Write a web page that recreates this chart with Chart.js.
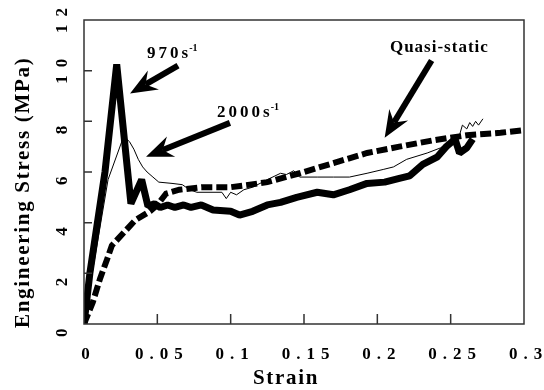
<!DOCTYPE html>
<html>
<head>
<meta charset="utf-8">
<script src="https://cdn.jsdelivr.net/npm/chart.js@4/dist/chart.umd.min.js"></script>
<style>
html, body { margin: 0; padding: 0; background: #fff; }
</style>
</head>
<body>
<canvas id="chart" width="544" height="390"></canvas>
<script>
var strain970 = [0, 0.004, 0.0143, 0.0223, 0.032, 0.0393, 0.0436, 0.048, 0.052, 0.057, 0.062, 0.068, 0.073, 0.08, 0.088, 0.1, 0.106, 0.115, 0.125, 0.134, 0.145, 0.159, 0.17, 0.181, 0.193, 0.205, 0.215, 0.222, 0.231, 0.241, 0.247, 0.253, 0.256, 0.261, 0.265];
var stress970 = [0, 2.0, 6.0, 10.25, 4.75, 5.7, 4.65, 4.75, 4.6, 4.7, 4.6, 4.7, 4.6, 4.7, 4.5, 4.45, 4.3, 4.45, 4.7, 4.8, 5.0, 5.2, 5.1, 5.3, 5.55, 5.6, 5.75, 5.85, 6.3, 6.6, 7.0, 7.3, 6.75, 6.95, 7.3];

var strain2000 = [0, 0.005, 0.0164, 0.027, 0.031, 0.034, 0.037, 0.04, 0.043, 0.047, 0.051, 0.06, 0.067, 0.072, 0.077, 0.09, 0.094, 0.097, 0.1, 0.104, 0.109, 0.115, 0.125, 0.134, 0.138, 0.143, 0.147, 0.159, 0.17, 0.181, 0.193, 0.204, 0.211, 0.22, 0.234, 0.243, 0.25, 0.254, 0.256, 0.258, 0.261, 0.263, 0.265, 0.267, 0.269, 0.272];
var stress2000 = [0, 1.8, 5.7, 7.4, 7.2, 6.9, 6.5, 6.2, 6.0, 5.8, 5.6, 5.55, 5.5, 5.3, 5.2, 5.2, 5.2, 4.95, 5.2, 5.1, 5.3, 5.4, 5.7, 5.95, 5.9, 6.05, 5.8, 5.8, 5.8, 5.8, 5.95, 6.1, 6.2, 6.5, 6.75, 6.95, 7.2, 7.45, 7.45, 7.85, 7.7, 7.95, 7.8, 8.0, 7.85, 8.1];

var strainQS = [0, 0.006, 0.011, 0.0157, 0.019, 0.027, 0.035, 0.045, 0.05, 0.056, 0.065, 0.08, 0.1, 0.113, 0.125, 0.147, 0.17, 0.193, 0.215, 0.238, 0.261, 0.284, 0.3];
var stressQS = [0, 0.86, 1.8, 2.55, 3.1, 3.6, 4.1, 4.45, 4.7, 5.15, 5.3, 5.4, 5.4, 5.5, 5.6, 5.95, 6.35, 6.75, 7.0, 7.25, 7.45, 7.55, 7.65];

var xTickValues = [0, 0.05, 0.1, 0.15, 0.2, 0.25, 0.3];
var xTickLabels = ['0', '0.05', '0.1', '0.15', '0.2', '0.25', '0.3'];
var yTickValues = [0, 2, 4, 6, 8, 10, 12];
var yTickLabels = ['0', '2', '4', '6', '8', '10', '12'];

// labels and arrows, placed in data units
var noteText = ['970s', '2000s', 'Quasi-static'];
var noteSup = ['-1', '-1', ''];
var noteX = [0.043, 0.0907, 0.2086];
var noteY = [10.49, 8.17, 10.73];
var arrowX1 = [0.0641, 0.0995, 0.237];
var arrowY1 = [10.2, 7.94, 10.4];
var arrowX2 = [0.0314, 0.0423, 0.205];
var arrowY2 = [9.1, 6.6, 7.35];

var serif = "'Liberation Serif', 'Times New Roman', serif";

function points(xs, ys) {
    var out = [];
    for (var i = 0; i < xs.length; i++) {
        out.push({ x: xs[i], y: ys[i] });
    }
    return out;
}

// linear scale drawn like the scanned figure: spread out labels,
// y labels starting just under their tick and reading upwards
class SpacedScale extends Chart.LinearScale {
    drawLabels(area) {
        this.ctx.save();
        this.ctx.letterSpacing = this.isHorizontal() ? '6px' : '8px';
        super.drawLabels(area);
        this.ctx.restore();
    }
    drawTitle() {
        this.ctx.save();
        this.ctx.letterSpacing = '1.7px';
        if (this.isHorizontal()) {
            this.ctx.translate(-18, 0);
        } else {
            this.ctx.translate(0, 4);
        }
        super.drawTitle();
        this.ctx.restore();
    }
    _getYAxisLabelAlignment(tl) {
        return { textAlign: 'left', x: this.right - tl - this.options.ticks.padding };
    }
}
SpacedScale.id = 'spacedLinear';
SpacedScale.defaults = Chart.LinearScale.defaults;
Chart.register(SpacedScale);

function drawArrow(ctx, x1, y1, x2, y2) {
    var ang = Math.atan2(y2 - y1, x2 - x1);
    var c = Math.cos(ang), s = Math.sin(ang);
    var len = 27, half = 11, notch = 18;
    ctx.lineWidth = 6;
    ctx.lineCap = 'butt';
    ctx.beginPath();
    ctx.moveTo(x1, y1);
    ctx.lineTo(x2 - c * notch, y2 - s * notch);
    ctx.stroke();
    ctx.beginPath();
    ctx.moveTo(x2, y2);
    ctx.lineTo(x2 - c * len - s * half, y2 - s * len + c * half);
    ctx.lineTo(x2 - c * notch, y2 - s * notch);
    ctx.lineTo(x2 - c * len + s * half, y2 - s * len - c * half);
    ctx.closePath();
    ctx.fill();
}

var overlay = {
    id: 'overlay',
    afterDraw: function (chart) {
        var ctx = chart.ctx;
        var sx = chart.scales.x;
        var sy = chart.scales.y;
        var x0 = sx.getPixelForValue(xTickValues[0]);
        var x1 = sx.getPixelForValue(xTickValues[xTickValues.length - 1]);
        var y0 = sy.getPixelForValue(yTickValues[0]);
        var y1 = sy.getPixelForValue(yTickValues[yTickValues.length - 1]);
        ctx.save();

        // box round the plot and inward tick marks
        ctx.strokeStyle = '#333';
        ctx.lineWidth = 1.5;
        ctx.beginPath();
        ctx.moveTo(x0, y1);
        ctx.lineTo(x1, y1);
        ctx.lineTo(x1, y0);
        ctx.lineTo(x0, y0);
        ctx.closePath();
        for (var i = 1; i < xTickValues.length - 1; i++) {
            var px = sx.getPixelForValue(xTickValues[i]);
            ctx.moveTo(px, y0);
            ctx.lineTo(px, y0 - 10);
        }
        for (var j = 1; j < yTickValues.length - 1; j++) {
            var py = sy.getPixelForValue(yTickValues[j]);
            ctx.moveTo(x0, py);
            ctx.lineTo(x0 + 8, py);
        }
        ctx.stroke();

        ctx.fillStyle = '#000';
        ctx.strokeStyle = '#000';
        for (var k = 0; k < noteText.length; k++) {
            drawArrow(ctx, sx.getPixelForValue(arrowX1[k]), sy.getPixelForValue(arrowY1[k]),
                sx.getPixelForValue(arrowX2[k]), sy.getPixelForValue(arrowY2[k]));
            var tx = sx.getPixelForValue(noteX[k]);
            var ty = sy.getPixelForValue(noteY[k]);
            ctx.textAlign = 'left';
            ctx.textBaseline = 'alphabetic';
            ctx.font = 'bold 17px ' + serif;
            ctx.letterSpacing = noteSup[k] ? '3px' : '1px';
            ctx.fillText(noteText[k], tx, ty);
            if (noteSup[k]) {
                var w = ctx.measureText(noteText[k]).width;
                ctx.font = 'bold 10px ' + serif;
                ctx.letterSpacing = '0px';
                ctx.fillText(noteSup[k], tx + w - 2, ty - 7);
            }
        }
        ctx.restore();
    }
};

var ctx = document.getElementById('chart').getContext('2d');
var myChart = new Chart(ctx, {
    type: 'line',
    data: {
        datasets: [{
            label: '2000s-1',
            data: points(strain2000, stress2000),
            borderColor: '#000',
            borderWidth: 1,
            pointRadius: 0,
            tension: 0,
            order: 1
        }, {
            label: '970s-1',
            data: points(strain970, stress970),
            borderColor: '#000',
            borderWidth: 7,
            borderJoinStyle: 'bevel',
            pointRadius: 0,
            tension: 0,
            order: 2
        }, {
            label: 'Quasi-static',
            data: points(strainQS, stressQS),
            borderColor: '#000',
            borderWidth: 6,
            borderDash: [11, 4],
            borderCapStyle: 'butt',
            pointRadius: 0,
            tension: 0,
            order: 3
        }]
    },
    options: {
        responsive: false,
        animation: false,
        layout: { padding: { top: 20, right: 20, left: 0, bottom: 0 } },
        plugins: {
            legend: { display: false },
            tooltip: { enabled: false }
        },
        scales: {
            x: {
                type: 'spacedLinear',
                min: 0,
                max: 0.3,
                afterBuildTicks: function (scale) {
                    scale.ticks = xTickValues.map(function (v) { return { value: v }; });
                },
                afterFit: function (scale) {
                    scale.height = 66;
                    scale.paddingLeft = 0;
                    scale.paddingRight = 0;
                },
                grid: { display: false, drawTicks: false },
                border: { display: false },
                ticks: {
                    autoSkip: false,
                    maxRotation: 0,
                    padding: 20,
                    labelOffset: 4.5,
                    color: '#000',
                    font: { family: serif, size: 17, weight: 'bold' },
                    callback: function (v, i) { return xTickLabels[i]; }
                },
                title: {
                    display: true,
                    text: 'Strain',
                    color: '#000',
                    padding: { top: 0, bottom: 0.5 },
                    font: { family: serif, size: 21, weight: 'bold', lineHeight: 1 }
                }
            },
            y: {
                type: 'spacedLinear',
                min: 0,
                max: 12,
                afterBuildTicks: function (scale) {
                    scale.ticks = yTickValues.map(function (v) { return { value: v }; });
                },
                afterFit: function (scale) {
                    scale.width = 84;
                    scale.paddingTop = 0;
                    scale.paddingBottom = 0;
                },
                grid: { display: false, drawTicks: false },
                border: { display: false },
                ticks: {
                    autoSkip: false,
                    minRotation: 90,
                    maxRotation: 90,
                    padding: 21.5,
                    labelOffset: 13,
                    color: '#000',
                    font: { family: serif, size: 17, weight: 'bold' },
                    callback: function (v, i) { return yTickLabels[i]; }
                },
                title: {
                    display: true,
                    text: 'Engineering Stress (MPa)',
                    align: 'start',
                    color: '#000',
                    padding: { top: 13.5, bottom: 0 },
                    font: { family: serif, size: 21, weight: 'bold', lineHeight: 1 }
                }
            }
        }
    },
    plugins: [overlay]
});
</script>
</body>
</html>
